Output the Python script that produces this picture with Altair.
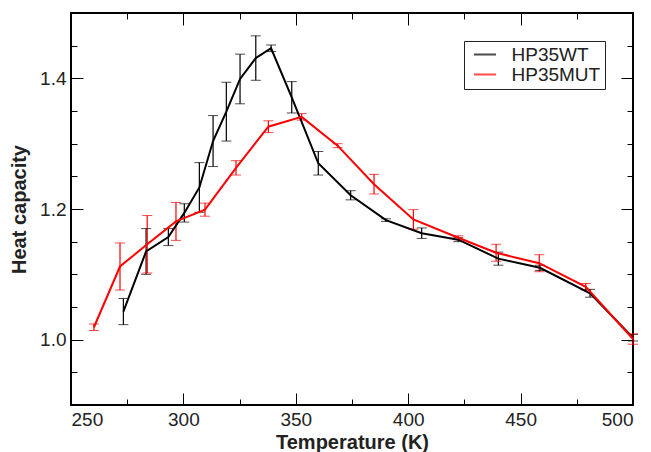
import altair as alt
import pandas as pd

# ---- data ----
wt_T = [273.3, 283.4, 293.3, 300.4, 307.1, 313.2, 319.1, 325.2, 332.2, 339.0,
        348.2, 360.0, 374.4, 390.1, 406.0, 422.3, 440.1, 458.6, 480.9, 500.0]
wt_cp = [1.043, 1.135, 1.157, 1.194, 1.233, 1.304, 1.349, 1.399, 1.431, 1.446,
         1.371, 1.270, 1.221, 1.183, 1.163, 1.153, 1.124, 1.110, 1.071, 1.003]
wt_err = [0.020, 0.035, 0.013, 0.014, 0.038, 0.039, 0.045, 0.038, 0.034, 0.005,
          0.024, 0.018, 0.007, 0.002, 0.008, 0.003, 0.010, 0.004, 0.006, 0.005]

mut_T = [260.2, 271.8, 283.9, 296.7, 309.6, 323.4, 337.8, 352.6, 368.6, 384.8,
         402.3, 422.3, 439.1, 458.3, 479.0, 500.0]
mut_cp = [1.019, 1.112, 1.146, 1.181, 1.199, 1.263, 1.326, 1.341, 1.297, 1.238,
          1.184, 1.156, 1.133, 1.117, 1.081, 1.001]
mut_err = [0.005, 0.036, 0.044, 0.029, 0.010, 0.011, 0.009, 0.005, 0.003, 0.015,
           0.015, 0.003, 0.013, 0.013, 0.005, 0.008]

series_names = ["HP35WT", "HP35MUT"]
series_colors = ["#000000", "#ff0000"]

x_major = [250, 300, 350, 400, 450, 500]
x_minor = [275, 325, 375, 425, 475]
y_major = [1.0, 1.2, 1.4]
y_minor = [0.95, 1.05, 1.1, 1.15, 1.25, 1.3, 1.35, 1.45]

rows = []
for name, Ts, cps, errs in [("HP35WT", wt_T, wt_cp, wt_err),
                            ("HP35MUT", mut_T, mut_cp, mut_err)]:
    for t, c, e in zip(Ts, cps, errs):
        rows.append({"series": name, "T": t, "Cp": c, "lo": c - e, "hi": c + e})
df = pd.DataFrame(rows)

FONT = "Liberation Sans"
xs = alt.Scale(domain=[250, 500], nice=False, zero=False)
ys = alt.Scale(domain=[0.9, 1.5], nice=False, zero=False)

color = alt.Color(
    "series:N",
    scale=alt.Scale(domain=series_names, range=series_colors),
    legend=alt.Legend(
        orient="none", legendX=393, legendY=28, title=None,
        symbolType="M-2,0H2", symbolSize=121, symbolStrokeWidth=2,
        labelFontSize=19, labelFont=FONT, labelColor="#222222",
        strokeColor="#222222", fillColor="white", padding=4,
        rowPadding=0, labelOffset=17, symbolOffset=7.5,
    ),
)


def tick_axis(orient, values, size):
    return alt.Axis(orient=orient, values=values, labels=False, domain=False,
                    grid=False, title=None, ticks=True,
                    tickSize={"expr": str(-size)}, tickColor="black",
                    tickWidth=1)


label_x = alt.Axis(orient="bottom", values=x_major, ticks=False, domain=False,
                   grid=False, format="d", title="Temperature (K)",
                   labelPadding=5, titlePadding=3)
label_y = alt.Axis(orient="left", values=y_major, ticks=False, domain=False,
                   grid=False, format=".1f", title="Heat capacity",
                   labelPadding=5, titlePadding=10)

base = alt.Chart(df)

err_rule = base.mark_rule(strokeWidth=1.2).encode(
    x=alt.X("T:Q", scale=xs, axis=label_x),
    y=alt.Y("lo:Q", scale=ys, axis=label_y),
    y2="hi:Q",
    color=color,
)
cap_lo = base.mark_tick(orient="horizontal", size=10, thickness=1).encode(
    x=alt.X("T:Q", scale=xs, axis=tick_axis("bottom", x_major, 12)),
    y=alt.Y("lo:Q", scale=ys, axis=tick_axis("left", y_major, 12)),
    color=color,
)
cap_hi = base.mark_tick(orient="horizontal", size=10, thickness=1).encode(
    x=alt.X("T:Q", scale=xs, axis=tick_axis("bottom", x_minor, 6)),
    y=alt.Y("hi:Q", scale=ys, axis=tick_axis("left", y_minor, 6)),
    color=color,
)
line_wt = base.transform_filter(alt.datum.series == "HP35WT").mark_line(
    strokeWidth=2).encode(
    x=alt.X("T:Q", scale=xs, axis=tick_axis("top", x_major, 12)),
    y=alt.Y("Cp:Q", scale=ys, axis=tick_axis("right", y_major, 12)),
    color=color,
)
line_mut = base.transform_filter(alt.datum.series == "HP35MUT").mark_line(
    strokeWidth=2).encode(
    x=alt.X("T:Q", scale=xs, axis=tick_axis("top", x_minor, 6)),
    y=alt.Y("Cp:Q", scale=ys, axis=tick_axis("right", y_minor, 6)),
    color=color,
)

chart = alt.layer(err_rule, cap_lo, cap_hi, line_wt, line_mut).resolve_axis(
    x="independent", y="independent"
).properties(
    width=562, height=392,
    autosize=alt.AutoSizeParams(type="none"),
    padding={"left": 71, "top": 13, "right": 18, "bottom": 47},
    background="white",
).configure_view(
    stroke="black", strokeWidth=2
).configure_axis(
    labelFont=FONT, labelFontSize=19, labelColor="#222222",
    titleFont=FONT, titleFontSize=20, titleFontWeight="bold",
    titleColor="#222222",
)

chart.save("out.html", embed_options={"renderer": "svg", "actions": False})
